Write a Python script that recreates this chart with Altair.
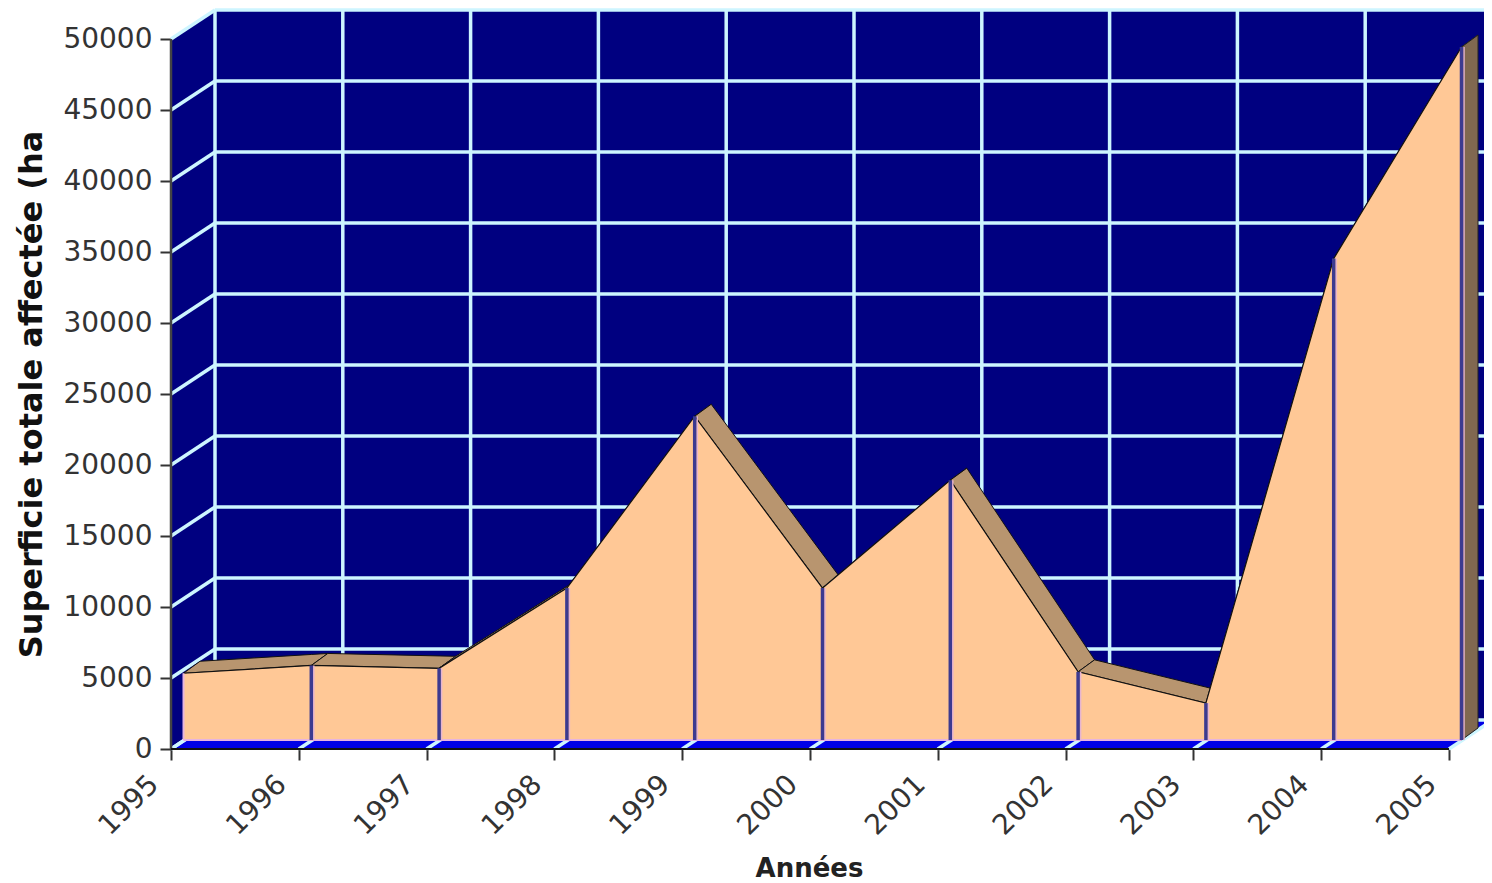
import altair as alt
import pandas as pd

years = [1995, 1996, 1997, 1998, 1999, 2000, 2001, 2002, 2003, 2004, 2005]
surface = [4700, 5250, 5050, 10700, 22800, 10700, 18300, 4800, 2600, 33900, 48800]
ticks_y = [0, 5000, 10000, 15000, 20000, 25000, 30000, 35000, 40000, 45000, 50000]

PX_X = 127.8          # pixels per year
PX_Y = 710 / 50000    # pixels per hectare
def ux(px): return px / PX_X
def uy(px): return px / PX_Y

WALL_X, WALL_Y = ux(44), uy(29)
FRONT_X, FRONT_Y = ux(12.5), uy(9)
BACK_X, BACK_Y = ux(29), uy(21)

X_MAX = 1995 + ux(1313)
Y_MAX = 50000 + WALL_Y
x_scale = alt.Scale(domain=[1995, X_MAX], nice=False, zero=False)
y_scale = alt.Scale(domain=[0, Y_MAX], nice=False, zero=False)

x_axis = alt.Axis(
    values=years, format="d", title="Années", domain=False, grid=False,
    labelAngle=-45, labelAlign="right", labelBaseline="top",
    labelFont="DejaVu Sans", labelFontSize=28, labelColor="#333333",
    labelPadding=10, labelOffset=-27, labelFlush=False, labelOverlap=False, labelBound=False,
    tickSize=11, tickColor="#333333", tickWidth=2,
    titleFont="DejaVu Sans", titleFontSize=26, titleFontWeight="bold", titleColor="#222222",
    titleX=638, titleY=119, titleAlign="center", titleBaseline="middle", titleAnchor="start")
y_axis = alt.Axis(
    values=ticks_y, format="d", title="Superficie totale affectée (ha", domain=False, grid=False,
    labelFont="DejaVu Sans", labelFontSize=28, labelColor="#333333", labelPadding=8,
    labelFlush=False, labelOverlap=False, labelBound=False,
    tickSize=11, tickColor="#333333", tickWidth=2,
    titleFont="DejaVu Sans", titleFontSize=32, titleFontWeight="bold", titleColor="#111111",
    titleX=-140, titleY=384, titleAngle=-90, titleAlign="center", titleBaseline="middle", titleAnchor="start")

X = lambda f="x": alt.X(f"{f}:Q", scale=x_scale, axis=x_axis)
Y = lambda f="y": alt.Y(f"{f}:Q", scale=y_scale, axis=y_axis)

first, last = years[0], years[-1]

wall = pd.DataFrame([
    dict(x=first, y=0, y2=50000),
    dict(x=first + WALL_X, y=WALL_Y, y2=50000 + WALL_Y),
    dict(x=last + WALL_X, y=WALL_Y, y2=50000 + WALL_Y),
])
floor = pd.DataFrame([
    dict(x=first, y=0, y2=0),
    dict(x=first + WALL_X, y=0, y2=WALL_Y),
    dict(x=last, y=0, y2=WALL_Y),
    dict(x=last + WALL_X, y=WALL_Y, y2=WALL_Y),
])

grid = []
for v in ticks_y:
    if v > 0:
        grid.append(dict(x=first + WALL_X, x2=last + WALL_X, y=v + WALL_Y, y2=v + WALL_Y))
    grid.append(dict(x=first, x2=first + WALL_X, y=v, y2=v + WALL_Y))
grid.append(dict(x=first + WALL_X, x2=last + WALL_X, y=WALL_Y, y2=WALL_Y))
for yr in years:
    grid.append(dict(x=yr + WALL_X, x2=yr + WALL_X, y=WALL_Y, y2=50000 + WALL_Y))
floor_grid = [dict(x=yr, x2=yr + WALL_X, y=0, y2=WALL_Y) for yr in years]
grid = pd.DataFrame(grid + floor_grid)

# top faces of the 3-D area: one parallelogram per pair of years
dx, dy = BACK_X - FRONT_X, BACK_Y - FRONT_Y
rows = []
for i in range(len(years) - 1):
    x0, x1 = years[i] + FRONT_X, years[i + 1] + FRONT_X
    v0, v1 = surface[i] + FRONT_Y, surface[i + 1] + FRONT_Y
    s = (v1 - v0) / (x1 - x0)
    on_front = v0 + s * dx
    on_back = v0 + dy + s * (x1 - x0 - dx)
    rows += [
        dict(seg=i, x=x0, y=v0, y2=v0),
        dict(seg=i, x=x0 + dx, y=on_front, y2=v0 + dy),
        dict(seg=i, x=x1, y=v1, y2=on_back),
        dict(seg=i, x=x1 + dx, y=v1 + dy, y2=v1 + dy),
    ]
bands = pd.DataFrame(rows)

cap = pd.DataFrame([
    dict(x=last + FRONT_X, y=FRONT_Y, y2=surface[-1] + FRONT_Y),
    dict(x=last + BACK_X, y=BACK_Y, y2=surface[-1] + BACK_Y),
])
front = pd.DataFrame(dict(
    x=[yr + FRONT_X for yr in years],
    y=[v + FRONT_Y for v in surface],
    y2=[FRONT_Y] * len(years),
))
edge = pd.DataFrame(dict(x=[first + FRONT_X], x2=[last + FRONT_X], y=[FRONT_Y], y2=[FRONT_Y]))
axis_lines = pd.DataFrame([dict(x=first, x2=first, y=0, y2=50000)])
base_line = pd.DataFrame([dict(x=first, x2=last, y=0, y2=0)])

def area(df, **kw):
    return alt.Chart(df).mark_area(**kw)

layers = [
    area(wall, color="#000080").encode(x=X(), y=Y(), y2="y2:Q"),
    area(floor, color="#0000e6").encode(x=X(), y=Y(), y2="y2:Q"),
    alt.Chart(grid).mark_rule(color="#cdf5ff", strokeWidth=3.5).encode(x=X(), x2="x2:Q", y=Y(), y2="y2:Q"),
    area(bands, color="#b8956f", stroke="#111111", strokeWidth=1).encode(
        x=X(), y=Y(), y2="y2:Q", detail="seg:N"),
    area(cap, color="#806850", stroke="#222222", strokeWidth=1).encode(x=X(), y=Y(), y2="y2:Q"),
    area(front, color="#ffc896").encode(x=X(), y=Y(), y2="y2:Q"),
    alt.Chart(front).mark_line(color="#111111", strokeWidth=1.2).encode(x=X(), y=Y()),
    alt.Chart(edge).mark_rule(color="#e6b4e0", strokeWidth=2).encode(x=X(), x2="x2:Q", y=Y(), y2="y2:Q"),
    alt.Chart(front.iloc[1:]).mark_rule(color="#e6b4d0", strokeWidth=1.5, xOffset=2.5).encode(x=X(), y=Y(), y2="y2:Q"),
    alt.Chart(front.iloc[1:]).mark_rule(color="#3c3a90", strokeWidth=3.5).encode(x=X(), y=Y(), y2="y2:Q"),
    alt.Chart(front.iloc[:1]).mark_rule(color="#e6b4e0", strokeWidth=2).encode(x=X(), y=Y(), y2="y2:Q"),
    alt.Chart(axis_lines).mark_rule(color="#444444", strokeWidth=2.5).encode(x=X(), x2="x2:Q", y=Y(), y2="y2:Q"),
    alt.Chart(base_line).mark_rule(color="#111111", strokeWidth=2).encode(x=X(), x2="x2:Q", y=Y(), y2="y2:Q"),
]

chart = alt.layer(*layers).properties(
    width=1313, height=739,
    background="white",
    autosize=alt.AutoSizeParams(type="none"),
    padding={"left": 163, "top": 2, "right": 0, "bottom": 134},
).configure_view(stroke=None)

chart.save("out.html", embed_options={"renderer": "svg", "actions": False})
